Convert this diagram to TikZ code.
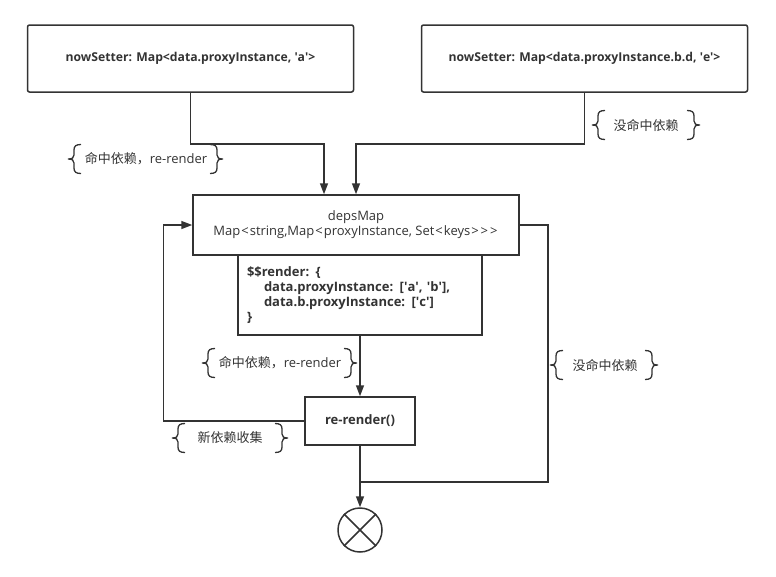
\documentclass[tikz,border=0pt]{standalone}
\usepackage{fontspec}
\setmainfont{Open Sans}
\newfontfamily\cjk{Noto Sans CJK SC}
\usetikzlibrary{arrows.meta,calc}
\definecolor{ink}{HTML}{333333}
\newcommand{\sq}{\textquotesingle}
\newcommand{\alt}{\kern1pt<\kern1pt}
\newcommand{\agt}{\kern1pt>\kern1pt}
\begin{document}
\begin{tikzpicture}[x=1pt,y=-1pt,
  line width=1.5pt, draw=ink, color=ink,
  every node/.style={font=\fontsize{13}{15}\selectfont, text=ink},
  topbox/.style={draw=ink, rounded corners=2pt, minimum width=326pt, minimum height=67pt, inner sep=0pt, font=\fontsize{12.2}{15}\selectfont\bfseries},
  sqbox/.style={draw=ink, inner sep=0pt},
  arr/.style={draw=ink, -{Triangle[length=11pt,width=8pt]}},
  conn/.style={draw=ink},
  lbl/.style={inner sep=0pt, font=\fontsize{13}{15}\selectfont},
  brc/.style={draw=ink, line width=1.3pt},
  lbrace/.pic={\draw[brc] (13,-14.5) .. controls (8,-14.5) and (6,-13) .. (6,-9) -- (6,-4) .. controls (6,-1) and (4,0) .. (0,0) .. controls (4,0) and (6,1) .. (6,4) -- (6,9) .. controls (6,13) and (8,14.5) .. (13,14.5);},
  rbrace/.pic={\draw[brc] (-13,-14.5) .. controls (-8,-14.5) and (-6,-13) .. (-6,-9) -- (-6,-4) .. controls (-6,-1) and (-4,0) .. (0,0) .. controls (-4,0) and (-6,1) .. (-6,4) -- (-6,9) .. controls (-6,13) and (-8,14.5) .. (-13,14.5);}
]
\useasboundingbox (0,0) rectangle (776,576);

% top boxes
\node[topbox] (s1) at (190.5,58.5) {nowSetter: Map<data.proxyInstance, \sq a\sq>};
\node[topbox] (s2) at (584.5,58.5) {nowSetter: Map<data.proxyInstance.b.d, \sq e\sq>};

% depsMap
\node[sqbox, minimum width=326pt, minimum height=60pt, align=center] (dm) at (356,225) {depsMap\\Map\alt string,Map\alt proxyInstance, Set\alt keys\agt\agt\agt};
\node[sqbox, minimum width=244pt, minimum height=80pt, text width=226pt, inner xsep=9pt, align=left, font=\fontsize{13}{15}\selectfont\bfseries] (rb) at (360,295) {\$\$render: \{\\\hspace*{17pt}data.proxyInstance: [\sq a\sq, \sq b\sq],\\\hspace*{17pt}data.b.proxyInstance: [\sq c\sq]\\\}};

% re-render box
\node[sqbox, minimum width=110pt, minimum height=48pt, font=\fontsize{13}{15}\selectfont\bfseries] (rr) at (360,421) {re-render()};

% end circle
\node[draw=ink, circle, minimum size=44pt, inner sep=0pt] (end) at (360,530) {};
\draw[conn] (end.north west) -- (end.south east);
\draw[conn] (end.north east) -- (end.south west);

\coordinate (j) at (360,482);

% connectors
\draw[arr] (s1.south) -- ++(0,51) -| ([xshift=-32pt]dm.north);
\draw[arr] (s2.south) -- ++(0,51) -| (dm.north);
\draw[arr] (rb.south) -- (rr.north);
\draw[arr] (rr.west) -- ++(-141,0) |- (dm.west);
\draw[conn] (dm.east) -- ++(28,0) |- (j);
\draw[arr] (rr.south) -- (end.north);

% labels with braces
\pic at (68,159) {lbrace};
\pic at (223,159) {rbrace};
\node[lbl] (l1) at (146,159) {{\cjk 命中依赖，}re-render};

\pic at (592,125) {lbrace};
\pic at (700,125) {rbrace};
\node[lbl] (l2) at (646,125) {\cjk 没命中依赖};

\pic at (202,363) {lbrace};
\pic at (357,363) {rbrace};
\node[lbl] (l3) at (280,363) {{\cjk 命中依赖，}re-render};

\pic at (172,438) {lbrace};
\pic at (288,438) {rbrace};
\node[lbl] (l4) at (230,438) {\cjk 新依赖收集};

\pic at (550,365) {lbrace};
\pic at (658,365) {rbrace};
\node[lbl] (l5) at (605,365) {\cjk 没命中依赖};
\end{tikzpicture}
\end{document}
